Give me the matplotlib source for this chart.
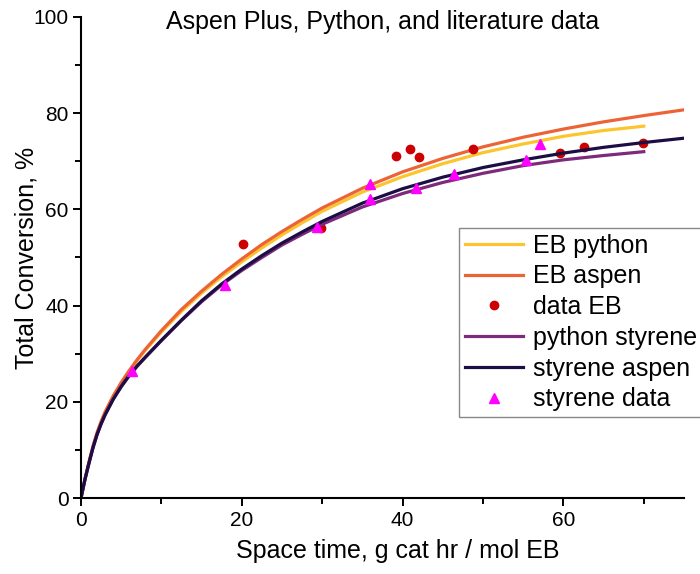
import matplotlib.pyplot as plt
import matplotlib.ticker as mticker

plt.rcParams['font.family'] = ['Liberation Sans', 'DejaVu Sans']

# model curves, read at fixed space-time points
x_long = [0, 0.5, 1, 1.5, 2, 2.5, 3, 4, 5, 6, 7, 8, 10, 12.5, 15, 17.5, 20, 22.5, 25, 27.5,
          30, 35, 40, 45, 50, 55, 60, 65, 70, 75]
x_short = x_long[:-1]

eb_aspen = [0, 4.0, 7.5, 10.8, 13.6, 15.9, 17.9, 21.2, 24.0, 26.5, 28.8, 30.9, 34.8, 39.2, 43.0,
            46.5, 49.7, 52.7, 55.4, 57.9, 60.3, 64.4, 67.8, 70.6, 73.0, 75.0, 76.7, 78.2, 79.5, 80.7]
eb_python = [0, 4.0, 7.5, 10.8, 13.5, 15.8, 17.8, 21.1, 23.9, 26.3, 28.6, 30.7, 34.5, 38.8, 42.6,
             46.0, 49.1, 52.0, 54.7, 57.2, 59.6, 63.6, 66.8, 69.5, 71.8, 73.6, 75.2, 76.4, 77.3]
styrene_python = [0, 3.9, 7.3, 10.5, 13.2, 15.4, 17.3, 20.5, 23.1, 25.4, 27.4, 29.2, 32.7, 36.9, 40.8,
                  44.3, 47.3, 50.0, 52.6, 54.8, 56.9, 60.5, 63.3, 65.6, 67.5, 69.1, 70.3, 71.2, 72.0]
styrene_aspen = [0, 3.9, 7.3, 10.5, 13.2, 15.4, 17.3, 20.5, 23.2, 25.5, 27.5, 29.3, 32.8, 37.0, 41.0,
                 44.5, 47.6, 50.4, 53.0, 55.3, 57.5, 61.3, 64.3, 66.7, 68.7, 70.3, 71.7, 72.9, 73.9, 74.8]

# literature data
eb_data_x = [20.1, 29.8, 39.2, 40.9, 42.0, 48.8, 59.6, 62.6, 69.9]
eb_data_y = [52.8, 56.1, 71.0, 72.5, 70.8, 72.6, 71.8, 73.0, 73.7]
sty_data_x = [6.3, 17.9, 29.4, 36.0, 36.0, 41.7, 46.4, 55.3, 57.1]
sty_data_y = [26.3, 44.3, 56.4, 65.3, 62.2, 64.4, 67.4, 70.3, 73.5]

fig = plt.figure(figsize=(7, 5.74), dpi=100)
ax = fig.add_axes([0.1157, 0.1324, 0.8614, 0.838])

lw = 2.3
ax.plot(x_short, eb_python, color='#fcc52f', lw=lw, label='EB python')
ax.plot(x_long, eb_aspen, color='#ec6436', lw=lw, label='EB aspen')
ax.plot(eb_data_x, eb_data_y, ls='none', marker='o', ms=6, color='#cc0000', label='data EB')
ax.plot(x_short, styrene_python, color='#7e2a7c', lw=lw, label='python styrene')
ax.plot(x_long, styrene_aspen, color='#1c0e45', lw=lw, label='styrene aspen')
ax.plot(sty_data_x, sty_data_y, ls='none', marker='^', ms=7, color='#ff00ff', label='styrene data')

ax.set_xlim(0, 75)
ax.set_ylim(0, 100)
ax.xaxis.set_major_locator(mticker.MultipleLocator(20))
ax.xaxis.set_minor_locator(mticker.MultipleLocator(10))
ax.yaxis.set_major_locator(mticker.MultipleLocator(20))
ax.yaxis.set_minor_locator(mticker.MultipleLocator(10))

for side in ['top', 'right']:
    ax.spines[side].set_visible(False)
for side in ['left', 'bottom']:
    ax.spines[side].set_linewidth(1.5)

ax.tick_params(which='major', direction='out', length=6, width=1.4, labelsize=15, pad=3)
ax.tick_params(which='minor', direction='out', length=4, width=1.4)

ax.set_xlabel('Space time, g cat hr / mol EB', fontsize=18)
ax.set_ylabel('Total Conversion, %', fontsize=18)
ax.xaxis.set_label_coords(0.526, -0.085)
ax.yaxis.set_label_coords(-0.07, 0.5)

fig.text(0.546, 1 - 22 / 574, 'Aspen Plus, Python, and literature data',
         ha='center', va='center', fontsize=18)

leg = ax.legend(loc='upper left', bbox_to_anchor=(459 / 700, 1 - 228 / 574),
                bbox_transform=fig.transFigure, fontsize=18, frameon=True, fancybox=False,
                edgecolor='#888888', framealpha=1, borderpad=0.22, labelspacing=0.27,
                handlelength=2.33, handletextpad=0.42, borderaxespad=0, numpoints=1)
leg.get_frame().set_linewidth(1.0)

fig.savefig('out.png', dpi=100)
